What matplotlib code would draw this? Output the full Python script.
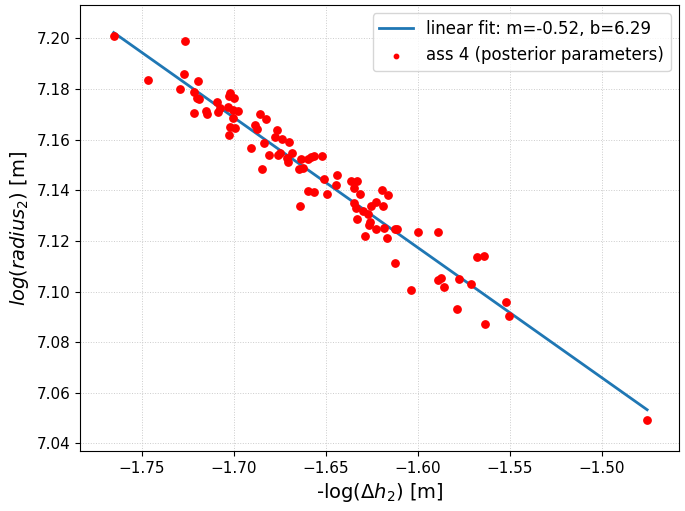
import matplotlib
matplotlib.use("Agg")
import matplotlib.pyplot as plt
import numpy as np

# posterior samples: -log(dh2) vs log(radius2)
neg_log_dh2 = [
    -1.7652, -1.7266, -1.7464, -1.7270, -1.7192, -1.7290, -1.7214, -1.7199,
    -1.7188, -1.7092, -1.7018, -1.7026, -1.6999, -1.7215, -1.7152, -1.7143,
    -1.7083, -1.7072, -1.7029, -1.7006, -1.7006, -1.6976, -1.7018, -1.6992,
    -1.7025, -1.6886, -1.6873, -1.6856, -1.6822, -1.6905, -1.6766, -1.6775,
    -1.6738, -1.6698, -1.6835, -1.6810, -1.6761, -1.6746, -1.6681, -1.6712,
    -1.6707, -1.6636, -1.6595, -1.6580, -1.6563, -1.6522, -1.6646, -1.6625,
    -1.6846, -1.6509, -1.6438, -1.6442, -1.6594, -1.6565, -1.6492, -1.6640,
    -1.6360, -1.6328, -1.6344, -1.6313, -1.6195, -1.6162, -1.6344, -1.6333,
    -1.6299, -1.6228, -1.6252, -1.6190, -1.6270, -1.6329, -1.6261, -1.6265,
    -1.6227, -1.6181, -1.6112, -1.6123, -1.6288, -1.6166, -1.6000, -1.5891,
    -1.6125, -1.5679, -1.5639, -1.5889, -1.5873, -1.5855, -1.5773, -1.5708,
    -1.6036, -1.5787, -1.5522, -1.5502, -1.5632, -1.4753,
]
log_radius2 = [
    7.2011, 7.1991, 7.1837, 7.1858, 7.1832, 7.1801, 7.1788, 7.1766,
    7.1762, 7.1750, 7.1786, 7.1773, 7.1763, 7.1705, 7.1712, 7.1701,
    7.1708, 7.1725, 7.1730, 7.1718, 7.1687, 7.1713, 7.1652, 7.1648,
    7.1620, 7.1659, 7.1642, 7.1701, 7.1683, 7.1567, 7.1637, 7.1612,
    7.1601, 7.1591, 7.1586, 7.1538, 7.1541, 7.1547, 7.1546, 7.1526,
    7.1510, 7.1523, 7.1522, 7.1531, 7.1537, 7.1535, 7.1483, 7.1490,
    7.1483, 7.1445, 7.1461, 7.1422, 7.1398, 7.1395, 7.1387, 7.1337,
    7.1436, 7.1438, 7.1410, 7.1385, 7.1400, 7.1381, 7.1351, 7.1330,
    7.1320, 7.1355, 7.1339, 7.1338, 7.1307, 7.1288, 7.1274, 7.1263,
    7.1247, 7.1250, 7.1246, 7.1246, 7.1218, 7.1213, 7.1235, 7.1235,
    7.1113, 7.1135, 7.1139, 7.1046, 7.1054, 7.1017, 7.1049, 7.1031,
    7.1008, 7.0932, 7.0958, 7.0903, 7.0871, 7.0492,
]

# fitted line (as drawn)
fit_m = -0.514
fit_b = 6.295
fit_label = "linear fit: m=-0.52, b=6.29"

x = np.array(neg_log_dh2)
y = np.array(log_radius2)

fig = plt.figure(figsize=(6.85, 5.11), dpi=100)
ax = fig.add_axes([0.1168, 0.1174, 0.8744, 0.8728])

xs = np.array([x.min(), x.max()])
ax.plot(xs, fit_m * xs + fit_b, color="#1f77b4", linewidth=2, label=fit_label, zorder=2)
ax.scatter(x, y, color="red", s=28, label="ass 4 (posterior parameters)", zorder=3)

ax.set_xlim(-1.7835, -1.458)
ax.set_ylim(7.037, 7.2132)
ax.set_xticks([-1.75, -1.70, -1.65, -1.60, -1.55, -1.50])
ax.set_yticks(np.arange(7.04, 7.2001, 0.02))
ax.tick_params(labelsize=11)
ax.grid(True, linestyle=":", linewidth=0.7, color="#cccccc")

ax.set_xlabel(r"-log($\Delta h_2$) [m]", fontsize=14)
ax.set_ylabel(r"$log(radius_2)$ [m]", fontsize=14)
ax.legend(loc="upper right", fontsize=12, markerscale=0.6)

fig.savefig("out.png", dpi=100)
